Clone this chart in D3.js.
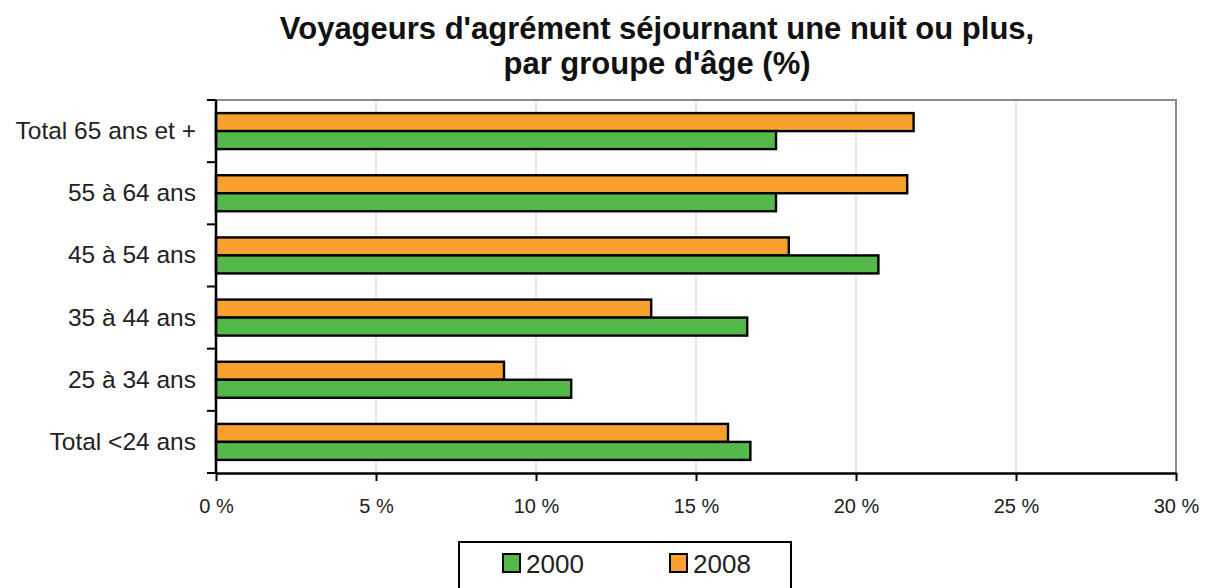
<!DOCTYPE html>
<meta charset="utf-8">
<head>
    <title>Voyageurs d'agrément</title>
    <script src="https://d3js.org/d3.v7.min.js"></script>
</head>
<style type="text/css">
body {
    margin: 0;
    background: #FFFFFF;
    font-family: "Liberation Sans", Arial, sans-serif;
}
</style>
<body>
    <svg id="chart" width="1212" height="588"></svg>

    <script type="text/javascript">
        // data
        var categories = ["Total 65 ans et +", "55 à 64 ans", "45 à 54 ans", "35 à 44 ans", "25 à 34 ans", "Total <24 ans"];
        var series = ["2000", "2008"];
        var values2000 = [17.5, 17.5, 20.7, 16.6, 11.1, 16.7];
        var values2008 = [21.8, 21.6, 17.9, 13.6, 9.0, 16.0];
        var xTicks = [0, 5, 10, 15, 20, 25, 30];
        var colors = {"2000": "#55b84a", "2008": "#f9a12f"};

        var svg = d3.select("#chart");
        var plotLeft = 216, plotRight = 1176, plotTop = 100, plotBottom = 473;

        var x = d3.scaleLinear().domain([0, 30]).range([plotLeft, plotRight]);
        var y = d3.scaleBand().domain(categories).range([plotTop, plotBottom]);
        var barH = 18;

        // title
        var title = svg.append("text")
            .attr("text-anchor", "middle")
            .style("font-size", "31px")
            .style("font-weight", "bold")
            .attr("fill", "#111");
        title.append("tspan").attr("x", 657).attr("y", 39).text("Voyageurs d'agrément séjournant une nuit ou plus,");
        title.append("tspan").attr("x", 657).attr("y", 74).text("par groupe d'âge (%)");

        // gridlines
        svg.append("g")
            .selectAll("line")
            .data(xTicks.slice(1, -1))
            .enter().append("line")
            .attr("x1", function(d) { return x(d); })
            .attr("x2", function(d) { return x(d); })
            .attr("y1", plotTop)
            .attr("y2", plotBottom)
            .attr("stroke", "#d6d6d6")
            .attr("stroke-width", 1.2);

        // plot frame (top + right)
        svg.append("path")
            .attr("d", "M" + plotLeft + "," + plotTop + "H" + plotRight + "V" + plotBottom)
            .attr("fill", "none")
            .attr("stroke", "#8a8a8a")
            .attr("stroke-width", 2);

        // bars
        var rows = categories.map(function(c, i) {
            return {cat: c, v2008: values2008[i], v2000: values2000[i]};
        });
        var g = svg.append("g");
        rows.forEach(function(r) {
            var cy = y(r.cat) + y.bandwidth() / 2;
            g.append("rect")
                .attr("x", x(0))
                .attr("y", cy - barH)
                .attr("width", x(r.v2008) - x(0))
                .attr("height", barH)
                .attr("fill", colors["2008"])
                .attr("stroke", "#000")
                .attr("stroke-width", 2.4);
            g.append("rect")
                .attr("x", x(0))
                .attr("y", cy)
                .attr("width", x(r.v2000) - x(0))
                .attr("height", barH)
                .attr("fill", colors["2000"])
                .attr("stroke", "#000")
                .attr("stroke-width", 2.4);
        });

        // x axis
        var xAxis = svg.append("g")
            .attr("transform", "translate(0," + plotBottom + ")")
            .call(d3.axisBottom(x).tickValues(xTicks).tickSize(8).tickSizeOuter(0)
                .tickFormat(function(d) { return d + " %"; }));
        xAxis.select(".domain").attr("stroke", "#000").attr("stroke-width", 2.5);
        xAxis.selectAll(".tick line").attr("stroke", "#000").attr("stroke-width", 2);
        xAxis.selectAll(".tick text")
            .attr("y", 26)
            .style("font-size", "20px")
            .style("font-family", "'Liberation Sans', Arial, sans-serif")
            .attr("fill", "#222");

        // y axis line and ticks at band boundaries
        svg.append("line")
            .attr("x1", plotLeft).attr("x2", plotLeft)
            .attr("y1", plotTop).attr("y2", plotBottom)
            .attr("stroke", "#000").attr("stroke-width", 2.5);
        var bounds = categories.map(function(c) { return y(c); }).concat([plotBottom]);
        svg.append("g").selectAll("line")
            .data(bounds)
            .enter().append("line")
            .attr("x1", plotLeft - 9).attr("x2", plotLeft)
            .attr("y1", function(d) { return d; })
            .attr("y2", function(d) { return d; })
            .attr("stroke", "#000").attr("stroke-width", 2);

        svg.append("g").selectAll("text")
            .data(categories)
            .enter().append("text")
            .attr("x", 196)
            .attr("y", function(d) { return y(d) + y.bandwidth() / 2 + 8; })
            .attr("text-anchor", "end")
            .style("font-size", "24.5px")
            .attr("fill", "#222")
            .text(function(d) { return d; });

        // legend
        svg.append("rect")
            .attr("x", 459).attr("y", 542)
            .attr("width", 332).attr("height", 60)
            .attr("fill", "#fff")
            .attr("stroke", "#000").attr("stroke-width", 2);
        var legX = [503, 670];
        series.forEach(function(s, i) {
            svg.append("rect")
                .attr("x", legX[i]).attr("y", 554)
                .attr("width", 17).attr("height", 18)
                .attr("fill", colors[s])
                .attr("stroke", "#000").attr("stroke-width", 2);
            svg.append("text")
                .attr("x", legX[i] + 23).attr("y", 573)
                .style("font-size", "26px")
                .attr("fill", "#222")
                .text(s);
        });
    </script>
</body>
